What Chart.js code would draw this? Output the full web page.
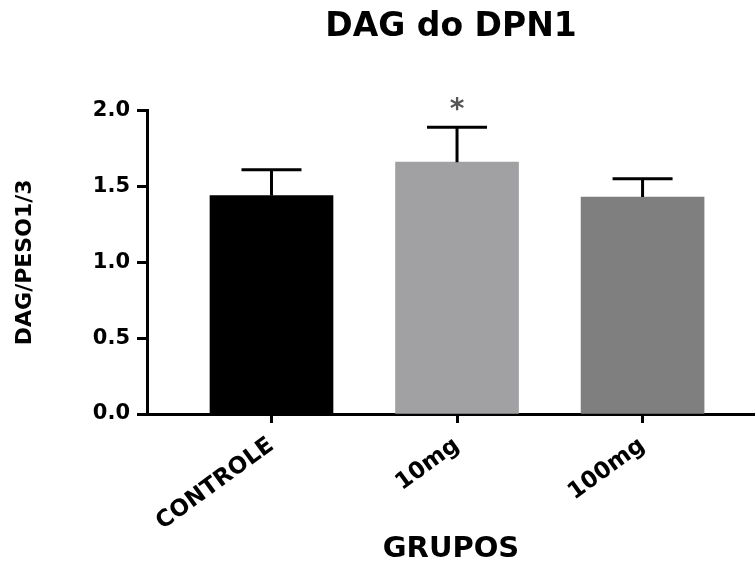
<!DOCTYPE html>
<html lang="pt">
<head>
    <meta charset="UTF-8">
    <title>DAG do DPN1</title>
    <style>
        body { margin: 0; background: #fff; }
        #chartDiv { width: 755px; height: 561px; }
    </style>
</head>
<body>
    <div id="chartDiv"><canvas id="dagGraph"></canvas></div>

    <script src="https://cdn.jsdelivr.net/npm/chart.js@4/dist/chart.umd.min.js"></script>
    <script>

    const grupos = ["CONTROLE", "10mg", "100mg"];
    const medias = [1.44, 1.66, 1.43];
    const erros = [0.17, 0.23, 0.12];
    const signif = ["", "*", ""];
    const cores = ["#000000", "#a1a1a4", "#7f7f7f"];
    const yTicks = [0, 0.5, 1.0, 1.5, 2.0];

    const fonte = "'DejaVu Sans', sans-serif";

    // barras de erro (so a parte de cima) + asterisco
    const errorBars = {
        id: "errorBars",
        afterDatasetsDraw(chart) {
            const ctx = chart.ctx;
            const xs = chart.scales.x;
            const ys = chart.scales.y;
            ctx.save();
            ctx.strokeStyle = "#000";
            ctx.lineWidth = 3;
            for (let i = 0; i < grupos.length; i++) {
                const x = xs.getPixelForValue(i + 1);
                const yBar = ys.getPixelForValue(medias[i]);
                const yTop = ys.getPixelForValue(medias[i] + erros[i]);
                ctx.beginPath();
                ctx.moveTo(x, yBar);
                ctx.lineTo(x, yTop);
                ctx.moveTo(x - 30, yTop);
                ctx.lineTo(x + 30, yTop);
                ctx.stroke();
                if (signif[i]) {
                    ctx.fillStyle = "#555";
                    ctx.font = "bold 28px " + fonte;
                    ctx.textAlign = "center";
                    ctx.textBaseline = "alphabetic";
                    ctx.fillText(signif[i], x, yTop - 9);
                }
            }
            ctx.restore();
        }
    };

    const ctx = document.getElementById("dagGraph").getContext("2d");

    const chart = new Chart(ctx, {
        type: "bar",
        data: {
            datasets: [{
                data: medias.map((v, i) => ({x: i + 1, y: v})),
                backgroundColor: cores,
                borderWidth: 0,
                barThickness: 123
            }]
        },
        options: {
            responsive: true,
            maintainAspectRatio: false,
            animation: false,
            layout: { padding: 0 },
            scales: {
                x: {
                    type: "linear",
                    min: 0.329,
                    max: 3.606,
                    offset: false,
                    afterBuildTicks: (scale) => {
                        scale.ticks = grupos.map((g, i) => ({value: i + 1}));
                    },
                    afterFit: (scale) => { scale.height = 147; },
                    grid: {
                        offset: false,
                        drawOnChartArea: false,
                        tickLength: 9,
                        tickWidth: 3,
                        tickColor: "#000"
                    },
                    border: { color: "#000", width: 3 },
                    ticks: {
                        autoSkip: false,
                        minRotation: 36,
                        maxRotation: 36,
                        padding: 9,
                        color: "#000",
                        font: { family: fonte, size: 23, weight: "bold" },
                        callback: (v) => grupos[v - 1]
                    },
                    title: {
                        display: true,
                        text: "GRUPOS",
                        color: "#000",
                        font: { family: fonte, size: 29, weight: "bold" },
                        padding: { top: 0, bottom: -6 }
                    }
                },
                y: {
                    min: 0,
                    max: 2,
                    afterBuildTicks: (scale) => {
                        scale.ticks = yTicks.map(v => ({value: v}));
                    },
                    afterFit: (scale) => { scale.width = 147; },
                    grid: {
                        drawOnChartArea: false,
                        tickLength: 10,
                        tickWidth: 3,
                        tickColor: "#000"
                    },
                    border: { color: "#000", width: 3 },
                    ticks: {
                        padding: 7,
                        color: "#000",
                        font: { family: fonte, size: 21, weight: "bold" },
                        callback: (v) => v.toFixed(1)
                    },
                    title: {
                        display: true,
                        text: "DAG/PESO1/3",
                        color: "#000",
                        font: { family: fonte, size: 22, weight: "bold" },
                        padding: { top: 12, bottom: 0 }
                    }
                }
            },
            plugins: {
                legend: { display: false },
                tooltip: { enabled: false },
                title: {
                    display: true,
                    fullSize: false,
                    text: "DAG do DPN1",
                    color: "#000",
                    font: { family: fonte, size: 33, weight: "bold" },
                    padding: { top: 8, bottom: 63 }
                }
            }
        },
        plugins: [errorBars]
    });

    </script>
</body>
</html>
